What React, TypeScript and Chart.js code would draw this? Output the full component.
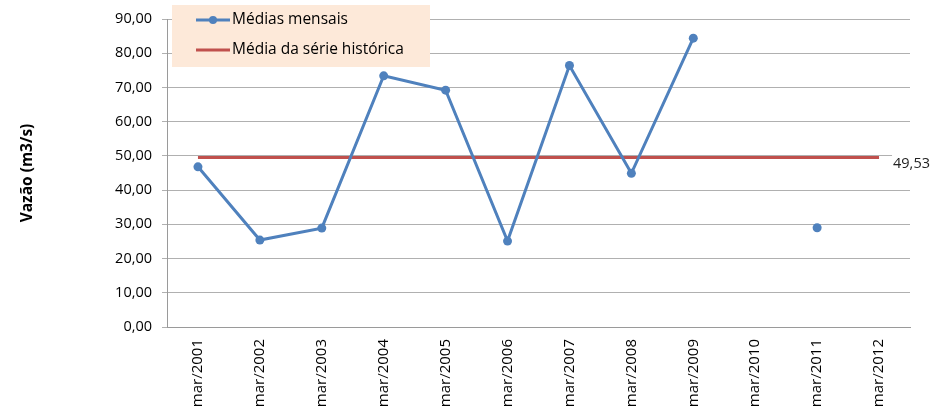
import React, { useEffect, useRef } from "react";
import { Chart, registerables } from "chart.js";

Chart.register(...registerables);

const categories = [
  "mar/2001", "mar/2002", "mar/2003", "mar/2004", "mar/2005", "mar/2006",
  "mar/2007", "mar/2008", "mar/2009", "mar/2010", "mar/2011", "mar/2012",
];
const monthlyMeans: (number | null)[] = [46.8, 25.4, 28.9, 73.4, 69.2, 25.1, 76.4, 44.9, 84.4, null, 29.0, null];
const historicalMean = 49.53;
const historicalSeries = categories.map(() => historicalMean);
const seriesLabels = ["Médias mensais", "Média da série histórica"];
const yTitle = "Vazão (m3/s)";
const yMin = 0;
const yMax = 90;
const yStep = 10;

const FONT = "'Open Sans', 'Noto Sans', sans-serif";
const BLUE = "#4F81BD";
const RED = "#C0504D";

const fmt = (v: number) => v.toFixed(2).replace(".", ",");

const legendPlugin = {
  id: "insideLegend",
  afterDraw(chart: any) {
    const { ctx, chartArea } = chart;
    const x = chartArea.left + 5;
    const y = chartArea.top - 14;
    ctx.save();
    ctx.fillStyle = "#FDE9D9";
    ctx.fillRect(x, y, 258, 62);
    ctx.font = `15.5px ${FONT}`;
    ctx.textBaseline = "middle";
    ctx.fillStyle = "#000";
    const rows = [y + 15, y + 45];
    chart.data.datasets.forEach((ds: any, i: number) => {
      const ry = rows[i];
      ctx.strokeStyle = ds.borderColor;
      ctx.lineWidth = 3;
      ctx.beginPath();
      ctx.moveTo(x + 24, ry);
      ctx.lineTo(x + 58, ry);
      ctx.stroke();
      if (ds.pointRadius > 0) {
        ctx.fillStyle = ds.borderColor;
        ctx.beginPath();
        ctx.arc(x + 41, ry, 4, 0, Math.PI * 2);
        ctx.fill();
      }
      ctx.fillStyle = "#000";
      ctx.textAlign = "left";
      ctx.fillText(ds.label, x + 60, ry);
    });
    ctx.restore();
  },
};

const meanLabelPlugin = {
  id: "meanLabel",
  afterDatasetsDraw(chart: any) {
    const { ctx, chartArea } = chart;
    const meta = chart.getDatasetMeta(1);
    const pts = meta.data;
    const last = pts[pts.length - 1];
    if (!last) return;
    ctx.save();
    ctx.fillStyle = "#fff";
    ctx.fillRect(last.x + 13, last.y - 4, chartArea.right - last.x, 18);
    ctx.font = `14.5px ${FONT}`;
    ctx.fillStyle = "#222";
    ctx.textAlign = "left";
    ctx.textBaseline = "middle";
    ctx.fillText(fmt(historicalMean), last.x + 14, last.y + 6);
    ctx.restore();
  },
};

export default function App() {
  const ref = useRef<HTMLCanvasElement>(null);
  useEffect(() => {
    if (!ref.current) return;
    const chart = new Chart(ref.current, {
      type: "line",
      data: {
        labels: categories,
        datasets: [
          {
            label: seriesLabels[0],
            data: monthlyMeans,
            borderColor: BLUE,
            backgroundColor: BLUE,
            borderWidth: 3,
            pointRadius: 4.5,
            pointBackgroundColor: BLUE,
            pointBorderColor: BLUE,
            pointBorderWidth: 0,
            spanGaps: false,
            tension: 0,
          },
          {
            label: seriesLabels[1],
            data: historicalSeries,
            borderColor: RED,
            backgroundColor: RED,
            borderWidth: 3,
            pointRadius: 0,
            tension: 0,
          },
        ],
      },
      options: {
        animation: false,
        responsive: false,
        layout: { padding: { top: 19, right: 24, left: 0, bottom: 0 } },
        plugins: { legend: { display: false }, tooltip: { enabled: false } },
        scales: {
          x: {
            offset: true,
            grid: { display: false, drawTicks: false },
            border: { display: true, color: "#9A9A9A", width: 1 },
            ticks: {
              minRotation: 90,
              maxRotation: 90,
              padding: 12,
              autoSkip: false,
              color: "#000",
              font: { family: FONT, size: 15 },
            },
            afterFit(scale: any) { scale.height = 80; },
          },
          y: {
            min: yMin,
            max: yMax,
            ticks: {
              stepSize: yStep,
              padding: 10,
              color: "#000",
              font: { family: FONT, size: 14.5 },
              callback: (v: any) => fmt(Number(v)),
            },
            grid: { color: "#B0B0B0", lineWidth: 1, tickLength: 5, drawTicks: true },
            border: { display: true, color: "#9A9A9A", width: 1 },
            title: {
              display: true,
              text: yTitle,
              color: "#000",
              font: { family: FONT, size: 15.5, weight: "bold" },
              padding: { top: 18, bottom: 0 },
            },
            afterFit(scale: any) { scale.width = 167; },
          },
        },
      },
      plugins: [meanLabelPlugin, legendPlugin],
    });
    return () => chart.destroy();
  }, []);
  return (
    <div style={{ position: "fixed", left: 0, top: 0, width: 934, height: 407, background: "#fff" }}>
      <canvas ref={ref} width={934} height={407} style={{ width: 934, height: 407 }} />
    </div>
  );
}
